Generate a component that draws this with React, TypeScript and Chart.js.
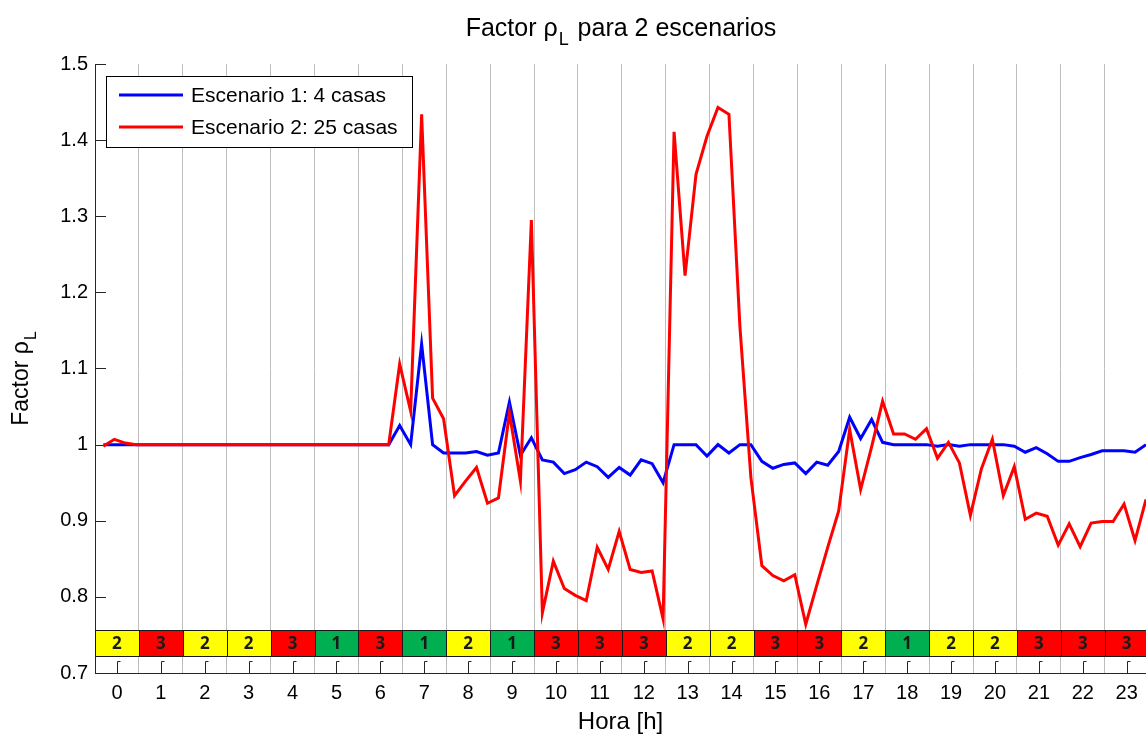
import { useEffect, useRef } from 'react';
import { Chart, registerables } from 'chart.js';

Chart.register(...registerables);

const FONT = '"Liberation Sans", Arial, Helvetica, sans-serif';

const SERIES_LABELS = ['Escenario 1: 4 casas', 'Escenario 2: 25 casas'];
const SERIES_COLORS = ['#0000FF', '#FF0000'];

// quarter-hour samples, first sample time and step (hours)
const T0 = -0.31;
const STEP = 0.25;

const ESCENARIO_1 = [
  1.0, 1.0, 1.0, 1.0, 1.0, 1.0, 1.0, 1.0, 1.0, 1.0, 1.0, 1.0, 1.0, 1.0, 1.0, 1.0,
  1.0, 1.0, 1.0, 1.0, 1.0, 1.0, 1.0, 1.0, 1.0, 1.0, 1.0, 1.025, 1.0, 1.132, 1.0, 0.989,
  0.989, 0.989, 0.991, 0.986, 0.989, 1.056, 0.986, 1.009, 0.98, 0.977, 0.962, 0.967, 0.977, 0.971, 0.957, 0.97,
  0.96, 0.98, 0.975, 0.95, 1.0, 1.0, 1.0, 0.985, 1.0, 0.989, 1.0, 1.0, 0.978, 0.969, 0.974, 0.976,
  0.962, 0.977, 0.973, 0.991, 1.036, 1.008, 1.033, 1.003, 1.0, 1.0, 1.0, 1.0, 0.998, 1.0, 0.998, 1.0,
  1.0, 1.0, 1.0, 0.998, 0.99, 0.996, 0.988, 0.978, 0.978, 0.983, 0.987, 0.992, 0.992, 0.992, 0.99, 1.0,
];

const ESCENARIO_2 = [
  0.998, 1.007, 1.002, 1.0, 1.0, 1.0, 1.0, 1.0, 1.0, 1.0, 1.0, 1.0, 1.0, 1.0, 1.0, 1.0,
  1.0, 1.0, 1.0, 1.0, 1.0, 1.0, 1.0, 1.0, 1.0, 1.0, 1.0, 1.106, 1.044, 1.434, 1.061, 1.034,
  0.933, 0.952, 0.97, 0.923, 0.93, 1.042, 0.952, 1.295, 0.779, 0.847, 0.811, 0.802, 0.795, 0.865, 0.836, 0.886,
  0.836, 0.832, 0.834, 0.771, 1.411, 1.222, 1.355, 1.405, 1.443, 1.434, 1.155, 0.957, 0.841, 0.828, 0.821, 0.829,
  0.764, 0.815, 0.865, 0.913, 1.02, 0.941, 0.997, 1.057, 1.014, 1.014, 1.007, 1.021, 0.982, 1.003, 0.976, 0.907,
  0.968, 1.007, 0.933, 0.971, 0.902, 0.91, 0.906, 0.868, 0.896, 0.866, 0.897, 0.899, 0.899, 0.922, 0.874, 0.928,
];

const HOUR_TICKS = [0, 1, 2, 3, 4, 5, 6, 7, 8, 9, 10, 11, 12, 13, 14, 15, 16, 17, 18, 19, 20, 21, 22, 23];
const TARIFF_LEVELS = [2, 3, 2, 2, 3, 1, 3, 1, 2, 1, 3, 3, 3, 2, 2, 3, 3, 2, 1, 2, 2, 3, 3, 3];
const LEVEL_COLORS: Record<number, string> = { 1: '#00B050', 2: '#FFFF00', 3: '#FF0000' };
const Y_TICKS = [0.7, 0.8, 0.9, 1.0, 1.1, 1.2, 1.3, 1.4, 1.5];

const X_MIN = -0.5;
const X_MAX = T0 + STEP * (ESCENARIO_1.length - 1);
const Y_MIN = 0.7;
const Y_MAX = 1.5;
const STRIP_TOP = 0.757;
const STRIP_BOTTOM = 0.722;

const toPoints = (arr: number[]) => arr.map((v, i) => ({ x: T0 + STEP * i, y: v }));

function drawSubText(
  ctx: CanvasRenderingContext2D,
  cx: number,
  baseY: number,
  main: string,
  sub: string,
  rest: string,
  size: number,
  subSize: number,
  drop: number,
) {
  ctx.font = `${size}px ${FONT}`;
  const w1 = ctx.measureText(main).width;
  const w3 = ctx.measureText(rest).width;
  ctx.font = `${subSize}px ${FONT}`;
  const w2 = ctx.measureText(sub).width + 2;
  const total = w1 + w2 + w3;
  let x = cx - total / 2;
  ctx.textAlign = 'left';
  ctx.textBaseline = 'alphabetic';
  ctx.fillStyle = '#000';
  ctx.font = `${size}px ${FONT}`;
  ctx.fillText(main, x, baseY);
  x += w1 + 1;
  ctx.font = `${subSize}px ${FONT}`;
  ctx.fillText(sub, x, baseY + drop);
  x += w2;
  ctx.font = `${size}px ${FONT}`;
  ctx.fillText(rest, x, baseY);
}

const overlayPlugin = {
  id: 'overlay',
  beforeDatasetsDraw(chart: any) {
    const { ctx, chartArea } = chart;
    const xs = chart.scales.x;
    const ys = chart.scales.y;
    ctx.save();
    // tariff strip
    const top = Math.round(ys.getPixelForValue(STRIP_TOP)) + 0.5;
    const bottom = Math.round(ys.getPixelForValue(STRIP_BOTTOM)) + 0.5;
    HOUR_TICKS.forEach((h, i) => {
      const l = Math.round(xs.getPixelForValue(h - 0.5)) + 0.5;
      const r = Math.round(xs.getPixelForValue(h + 0.5)) + 0.5;
      ctx.fillStyle = LEVEL_COLORS[TARIFF_LEVELS[i]];
      ctx.fillRect(l, top, r - l, bottom - top);
      ctx.strokeStyle = '#1a1a1a';
      ctx.lineWidth = 1;
      ctx.strokeRect(l, top, r - l, bottom - top);
      ctx.fillStyle = '#1a1a1a';
      ctx.font = `bold 17px "Noto Sans", ${FONT}`;
      ctx.textAlign = 'center';
      ctx.textBaseline = 'middle';
      ctx.fillText(String(TARIFF_LEVELS[i]), xs.getPixelForValue(h), (top + bottom) / 2 + 1);
    });
    // inward tick marks on x axis
    const y0 = Math.round(ys.getPixelForValue(Y_MIN));
    ctx.strokeStyle = '#262626';
    ctx.lineWidth = 1;
    HOUR_TICKS.forEach((h) => {
      const px = Math.round(xs.getPixelForValue(h)) + 0.5;
      ctx.beginPath();
      ctx.moveTo(px, y0);
      ctx.lineTo(px, y0 - 11.5);
      ctx.lineTo(px + 3, y0 - 11.5);
      ctx.stroke();
    });
    // inward tick marks on y axis
    Y_TICKS.forEach((v) => {
      const py = Math.round(ys.getPixelForValue(v)) + 0.5;
      ctx.beginPath();
      ctx.moveTo(chartArea.left, py);
      ctx.lineTo(chartArea.left + 11, py);
      ctx.stroke();
    });
    ctx.restore();
  },
  afterDatasetsDraw(chart: any) {
    const { ctx } = chart;
    ctx.save();
    // legend box
    ctx.fillStyle = '#FFFFFF';
    ctx.fillRect(106.5, 76.5, 306, 71);
    ctx.strokeStyle = '#000';
    ctx.lineWidth = 1;
    ctx.strokeRect(106.5, 76.5, 306, 71);
    const rows = [95, 127];
    SERIES_LABELS.forEach((label, i) => {
      ctx.strokeStyle = SERIES_COLORS[i];
      ctx.lineWidth = 3;
      ctx.beginPath();
      ctx.moveTo(119, rows[i]);
      ctx.lineTo(183, rows[i]);
      ctx.stroke();
      ctx.fillStyle = '#000';
      ctx.font = `21px ${FONT}`;
      ctx.textAlign = 'left';
      ctx.textBaseline = 'middle';
      ctx.fillText(label, 191, rows[i] + 1);
    });
    ctx.restore();
  },
  afterDraw(chart: any) {
    const { ctx, chartArea } = chart;
    ctx.save();
    drawSubText(ctx, (chartArea.left + chartArea.right) / 2, 36, 'Factor ρ', 'L', ' para 2 escenarios', 25, 18, 9);
    ctx.translate(28, 378);
    ctx.rotate(-Math.PI / 2);
    drawSubText(ctx, 0, 0, 'Factor ρ', 'L', '', 23, 16, 8);
    ctx.restore();
  },
};

export default function App() {
  const canvasRef = useRef<HTMLCanvasElement | null>(null);

  useEffect(() => {
    document.body.style.margin = '0';
    const canvas = canvasRef.current;
    if (!canvas) return;
    const halfTicks: number[] = [];
    HOUR_TICKS.forEach((h) => {
      halfTicks.push(h - 0.5, h);
    });
    const chart = new Chart(canvas, {
      type: 'line',
      data: {
        datasets: [
          {
            label: SERIES_LABELS[1],
            data: toPoints(ESCENARIO_2),
            borderColor: SERIES_COLORS[1],
            backgroundColor: SERIES_COLORS[1],
            borderWidth: 3,
            pointRadius: 0,
            tension: 0,
            order: 0,
          },
          {
            label: SERIES_LABELS[0],
            data: toPoints(ESCENARIO_1),
            borderColor: SERIES_COLORS[0],
            backgroundColor: SERIES_COLORS[0],
            borderWidth: 3,
            pointRadius: 0,
            tension: 0,
            order: 1,
          },
        ],
      },
      options: {
        responsive: false,
        animation: false,
        events: [],
        layout: { padding: { top: 64, right: 0, left: 0, bottom: 0 } },
        plugins: {
          legend: { display: false },
          title: { display: false },
          tooltip: { enabled: false },
        },
        scales: {
          x: {
            type: 'linear',
            min: X_MIN,
            max: X_MAX,
            afterBuildTicks: (scale: any) => {
              scale.ticks = halfTicks.filter((v) => v >= X_MIN && v <= X_MAX).map((v) => ({ value: v }));
            },
            afterFit: (scale: any) => {
              scale.height = 68;
            },
            ticks: {
              autoSkip: false,
              maxRotation: 0,
              minRotation: 0,
              padding: 8,
              color: '#000',
              font: { family: FONT, size: 20 },
              callback: (value: any) => (Number.isInteger(value) ? String(value) : ''),
            },
            grid: {
              drawTicks: false,
              lineWidth: 1,
              color: (c: any) => {
                const v = c.tick ? c.tick.value : 0;
                return Number.isInteger(v) || v <= X_MIN ? 'rgba(0,0,0,0)' : '#BEBEBE';
              },
            },
            border: { display: true, color: '#262626', width: 1 },
            title: {
              display: true,
              text: 'Hora [h]',
              color: '#000',
              font: { family: FONT, size: 24 },
              padding: { top: 0, bottom: 4 },
            },
          },
          y: {
            type: 'linear',
            min: Y_MIN,
            max: Y_MAX,
            afterBuildTicks: (scale: any) => {
              scale.ticks = Y_TICKS.map((v) => ({ value: v }));
            },
            afterFit: (scale: any) => {
              scale.width = 95;
            },
            ticks: {
              padding: 7,
              color: '#000',
              font: { family: FONT, size: 20 },
              callback: (value: any) => (Math.abs(value - 1) < 1e-9 ? '1' : Number(value).toFixed(1)),
            },
            grid: { display: false, drawTicks: false },
            border: { display: true, color: '#262626', width: 1 },
          },
        },
      },
      plugins: [overlayPlugin],
    } as any);
    return () => {
      chart.destroy();
    };
  }, []);

  return (
    <div style={{ width: 1146, height: 741, background: '#fff' }}>
      <canvas ref={canvasRef} width={1146} height={741} style={{ display: 'block' }} />
    </div>
  );
}
